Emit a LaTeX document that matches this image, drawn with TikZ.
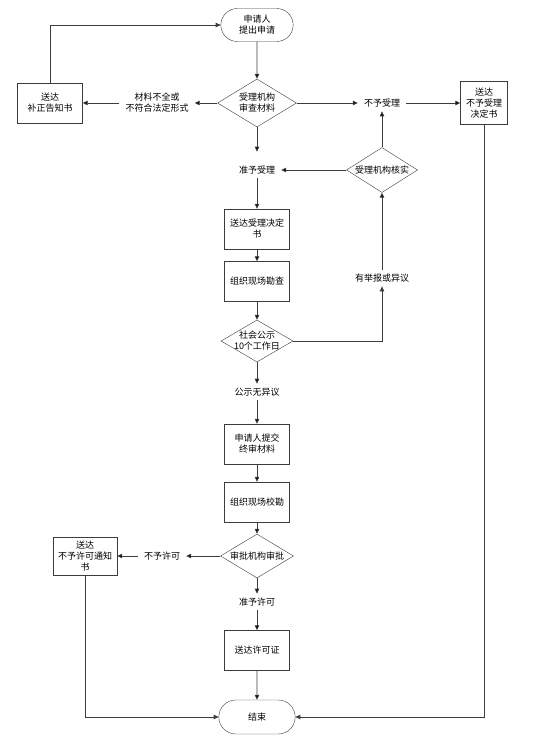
\documentclass[tikz,border=0pt]{standalone}
\usepackage{fontspec}
\setmainfont{Noto Sans CJK SC}
\usetikzlibrary{positioning,shapes.geometric,shapes.misc,arrows.meta}
\definecolor{flowgray}{HTML}{3C3C3C}

\begin{document}
\begin{tikzpicture}[x=1pt,y=1pt,on grid,node distance=50pt,
    >={Triangle[length=5pt,width=4.5pt]},
    every node/.style={font=\fontsize{9}{11}\selectfont,align=center},
    term/.style={draw=flowgray,rounded rectangle,minimum width=79pt,minimum height=33pt},
    box/.style={draw=flowgray,rectangle,minimum width=65pt,minimum height=40pt,inner sep=1pt},
    check/.style={draw=flowgray,diamond,aspect=1.6,inner sep=0pt,minimum width=79pt,minimum height=48pt},
    lbl/.style={inner xsep=6pt,inner ysep=4pt},
    flow/.style={draw=flowgray,line width=0.8pt}]
    \useasboundingbox (0,0) rectangle (533,-748);
    % main column
    \node[term]  (t_0) at (257,-25)      {申请人\\提出申请};
    \node[check] (d_0) [below=78pt of t_0] {受理机构\\审查材料};
    \node[lbl]   (l_ok) [below=67pt of d_0] {准予受理};
    \node[box]   (b_0) [below=59pt of l_ok] {送达受理决定\\书};
    \node[box]   (b_1) [below=52.5pt of b_0] {组织现场勘查};
    \node[check,aspect=1.7,inner sep=-3pt,minimum width=72pt,minimum height=42pt] (d_1) [below=59.5pt of b_1] {社会公示\\10个工作日};
    \node[lbl]   (l_pub) [below=51pt of d_1] {公示无异议};
    \node[box]   (b_2) [below=52pt of l_pub] {申请人提交\\终审材料};
    \node[box]   (b_3) [below=58pt of b_2] {组织现场校勘};
    \node[check,minimum width=73pt,minimum height=44pt] (d_2) [below=54pt of b_3] {审批机构审批};
    \node[lbl]   (l_perm) [below=46pt of d_2] {准予许可};
    \node[box]   (b_4) [below=48.5pt of l_perm] {送达许可证};
    \node[term,minimum width=83pt,minimum height=34pt] (t_1) [below=66.5pt of b_4] {结束};
    % left side
    \node[lbl]   (l_bad) [left=100pt of d_0] {材料不全或\\不符合法定形式};
    \node[box]   (b_fix) [left=207pt of d_0] {送达\\补正告知书};
    \node[lbl]   (l_deny) [left=95pt of d_2] {不予许可};
    \node[box,minimum width=64pt,minimum height=38pt] (b_deny) [left=172pt of d_2] {送达\\不予许可通知\\书};
    % right side
    \node[lbl]   (l_rej) [right=125pt of d_0] {不予受理};
    \node[box,minimum width=47pt,minimum height=43pt] (b_rej) [right=227pt of d_0] {送达\\不予受理\\决定书};
    \node[check,minimum width=71pt,minimum height=45pt] (d_chk) [below=67pt of l_rej] {受理机构核实};
    \node[lbl]   (l_obj) [below=108pt of d_chk] {有举报或异议};

    \path[flow,->] (t_0) edge (d_0)
              (d_0) edge (l_bad)
                    edge (l_rej)
                    edge [shorten >=10pt] (l_ok)
              (l_bad) edge (b_fix)
              (l_rej) edge (b_rej)
              (d_chk) edge (l_ok)
                      edge (l_rej)
              (l_ok) edge (b_0)
              (b_0) edge (b_1)
              (b_1) edge (d_1)
              (l_obj) edge (d_chk)
              (d_1) edge (l_pub)
              (l_pub) edge (b_2)
              (b_2) edge (b_3)
              (b_3) edge (d_2)
              (d_2) edge (l_deny)
                    edge (l_perm)
              (l_deny) edge (b_deny)
              (l_perm) edge (b_4)
              (b_4) edge (t_1);
    \draw[flow,->] (b_fix.north) |- (t_0.west);
    \draw[flow,->] (d_1.east) -| (l_obj.south);
    \draw[flow,->] (b_rej.south) |- (t_1.east);
    \draw[flow,->] (b_deny.south) |- (t_1.west);
\end{tikzpicture}
\end{document}
